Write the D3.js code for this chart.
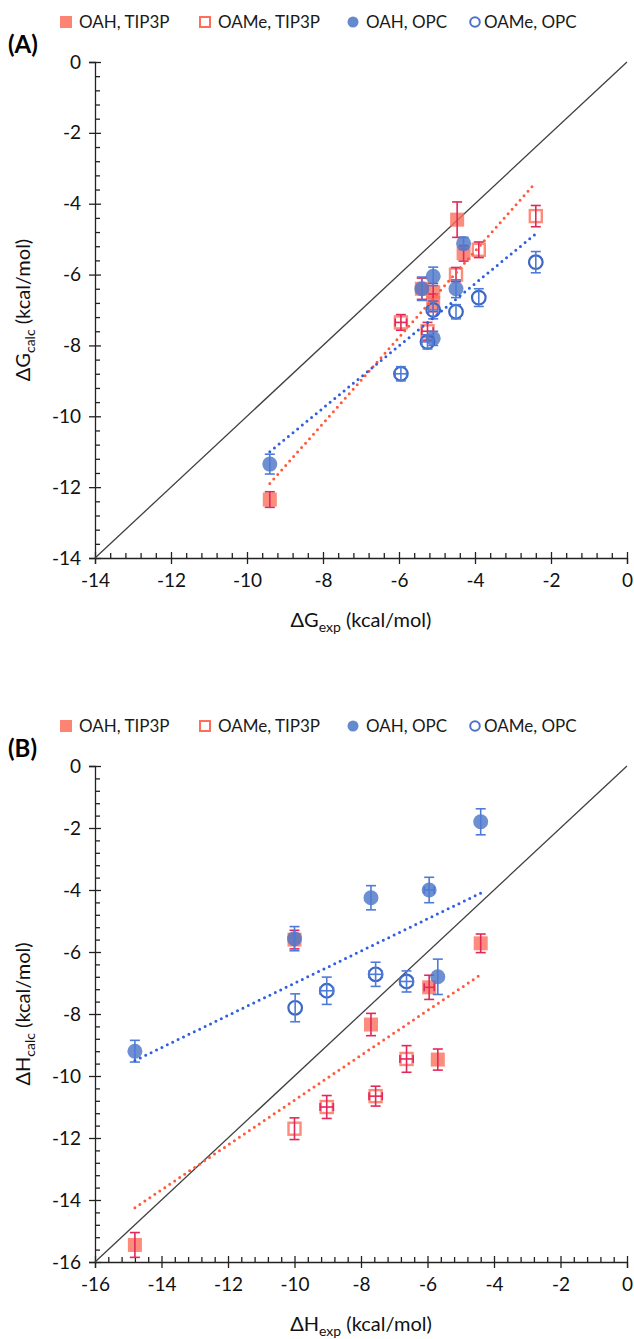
<!DOCTYPE html>
<html>
<head>
<meta charset="utf-8">
<script src="https://cdn.jsdelivr.net/npm/d3@7"></script>
<style>
  body { margin: 0; background: #fff; }
  text { font-family: Lato, "Open Sans", sans-serif; }
</style>
</head>
<body>
<svg width="634" height="1339"></svg>
<script>
const seriesNames = ["OAH, TIP3P", "OAMe, TIP3P", "OAH, OPC", "OAMe, OPC"];

// rows: [exp, calc, calc error, exp error]
// panel A, dG
const aOahTip3p = [[-9.4, -12.35, 0.22, 0], [-5.4, -6.4, 0.3, 0], [-5.1, -6.5, 0.25, 0],
                   [-5.1, -6.8, 0.25, 0], [-4.47, -4.45, 0.5, 0], [-4.3, -5.4, 0.22, 0]];
const aOameTip3p = [[-5.95, -7.35, 0.22, 0.15], [-5.25, -7.6, 0.25, 0.15], [-4.5, -6.0, 0.2, 0],
                    [-3.9, -5.3, 0.22, 0], [-2.4, -4.35, 0.3, 0]];
const aOahOpc = [[-9.4, -11.35, 0.28, 0], [-5.4, -6.4, 0.33, 0], [-5.1, -6.05, 0.26, 0],
                 [-5.1, -7.8, 0.2, 0], [-4.5, -6.4, 0.25, 0], [-4.3, -5.12, 0.17, 0]];
const aOameOpc = [[-5.95, -8.8, 0.2, 0.15], [-5.25, -7.9, 0.2, 0.15], [-5.1, -7.0, 0.25, 0.12],
                  [-4.5, -7.05, 0.2, 0], [-3.9, -6.65, 0.25, 0], [-2.4, -5.65, 0.3, 0]];
const aTrendTip3p = [[-9.4, -11.9], [-2.4, -3.4]];
const aTrendOpc = [[-9.4, -11.0], [-2.4, -4.85]];

// panel B, dH
const bOahTip3p = [[-14.8, -15.45, 0.4, 0], [-10.0, -5.6, 0.3, 0], [-7.7, -8.34, 0.36, 0],
                   [-5.95, -7.14, 0.39, 0.15], [-5.69, -9.47, 0.34, 0], [-4.4, -5.72, 0.3, 0]];
const bOameTip3p = [[-10.0, -11.7, 0.35, 0], [-9.03, -11.0, 0.37, 0.2], [-7.56, -10.65, 0.32, 0.2],
                    [-6.63, -9.45, 0.43, 0.2]];
const bOahOpc = [[-14.8, -9.2, 0.35, 0], [-10.0, -5.57, 0.39, 0], [-7.7, -4.25, 0.39, 0],
                 [-5.95, -4.0, 0.41, 0.15], [-5.69, -6.8, 0.57, 0], [-4.4, -1.8, 0.42, 0]];
const bOameOpc = [[-9.98, -7.8, 0.45, 0], [-9.03, -7.25, 0.44, 0.2], [-7.56, -6.72, 0.39, 0.2],
                  [-6.63, -6.95, 0.34, 0.2]];
const bTrendTip3p = [[-14.8, -14.25], [-4.4, -6.73]];
const bTrendOpc = [[-14.8, -9.5], [-4.4, -4.1]];

const ticksA = [-14, -12, -10, -8, -6, -4, -2, 0];
const ticksB = [-16, -14, -12, -10, -8, -6, -4, -2, 0];

const RED = "#fb6f5b", RED_BAR = "#e2285a", RED_TREND = "#ff5a3c";
const BLUE = "#4a74c6", BLUE_BAR = "#4f7bd8", BLUE_TREND = "#2f5fe0";

var svg = d3.select("svg");
svg.append("rect").attr("width", 634).attr("height", 1339).attr("fill", "#fff");

function minorTicks(ticks) {
    var lo = d3.min(ticks), hi = d3.max(ticks), out = [];
    for (var i = 0; lo + i * 0.4 <= hi + 1e-9; i++) {
        if (i % 5 !== 0) out.push(+(lo + i * 0.4).toFixed(2));
    }
    return out;
}

function drawPanel(top, p) {
    var g = svg.append("g").attr("transform", "translate(0," + top + ")");
    var left = 95, right = 627, y0 = 62, y1 = 558;
    var x = d3.scaleLinear().domain(d3.extent(p.ticks)).range([left, right]);
    var y = d3.scaleLinear().domain(d3.extent(p.ticks)).range([y1, y0]);

    // legend
    var leg = g.append("g").attr("transform", "translate(0,22)");
    var legX = [66, 205, 353, 475];
    seriesNames.forEach(function (name, i) {
        var cx = legX[i];
        if (i === 0) leg.append("rect").attr("x", cx - 6).attr("y", -6).attr("width", 12).attr("height", 12)
            .attr("fill", RED).attr("fill-opacity", 0.85);
        if (i === 1) leg.append("rect").attr("x", cx - 5).attr("y", -5).attr("width", 10).attr("height", 10)
            .attr("fill", "#fff").attr("stroke", RED).attr("stroke-width", 2);
        if (i === 2) leg.append("circle").attr("cx", cx).attr("cy", 0).attr("r", 5.5)
            .attr("fill", BLUE).attr("fill-opacity", 0.85);
        if (i === 3) leg.append("circle").attr("cx", cx).attr("cy", 0).attr("r", 4.8)
            .attr("fill", "#fff").attr("stroke", BLUE).attr("stroke-width", 2);
        leg.append("text").attr("x", cx + (i === 3 ? 9 : 13)).attr("y", 6)
            .attr("font-size", 17).attr("fill", "#1a1a1a").text(name);
    });

    g.append("text").attr("x", 8).attr("y", 53).attr("font-size", 24).attr("font-weight", "bold")
        .attr("fill", "#000").text(p.label);

    // axes
    var xAxis = g.append("g").attr("transform", "translate(0," + y1 + ")")
        .call(d3.axisBottom(x).tickValues(p.ticks).tickSize(6).tickPadding(10).tickFormat(d => String(d)));
    xAxis.selectAll(".tick line").attr("y1", -6);
    g.append("g").attr("transform", "translate(0," + y1 + ")")
        .call(d3.axisBottom(x).tickValues(minorTicks(p.ticks)).tickSize(-5).tickFormat(""))
        .select(".domain").remove();

    var yAxis = g.append("g").attr("transform", "translate(" + left + ",0)")
        .call(d3.axisLeft(y).tickValues(p.ticks).tickSize(6).tickPadding(8).tickFormat(d => String(d)));
    yAxis.selectAll(".tick line").attr("x1", 6);
    g.append("g").attr("transform", "translate(" + left + ",0)")
        .call(d3.axisLeft(y).tickValues(minorTicks(p.ticks)).tickSize(-5).tickFormat(""))
        .select(".domain").remove();

    g.selectAll(".domain, .tick line").attr("stroke", "#222").attr("stroke-width", 1.3);
    g.selectAll(".tick text").attr("font-size", 19).attr("fill", "#111")
        .style("font-family", "Lato, 'Open Sans', sans-serif");

    // axis titles
    var xt = g.append("text").attr("x", 361).attr("y", 627).attr("text-anchor", "middle")
        .attr("font-size", 20).attr("fill", "#111");
    xt.append("tspan").text("Δ" + p.sym);
    xt.append("tspan").attr("font-size", 14).attr("dy", 5).text("exp");
    xt.append("tspan").attr("dy", -5).text(" (kcal/mol)");

    var yt = g.append("text").attr("transform", "translate(30," + ((y0 + y1) / 2) + ") rotate(-90)")
        .attr("text-anchor", "middle").attr("font-size", 20).attr("fill", "#111");
    yt.append("tspan").text("Δ" + p.sym);
    yt.append("tspan").attr("font-size", 14).attr("dy", 5).text("calc");
    yt.append("tspan").attr("dy", -5).text(" (kcal/mol)");

    // identity line
    var lo = d3.min(p.ticks);
    g.append("line").attr("x1", x(lo)).attr("y1", y(lo)).attr("x2", x(0)).attr("y2", y(0))
        .attr("stroke", "#404040").attr("stroke-width", 1.3);

    function bars(sel, data, color) {
        var eb = sel.append("g").attr("stroke", color).attr("stroke-width", 1.6).attr("fill", "none");
        data.forEach(function (d) {
            var cx = x(d[0]), cy = y(d[1]);
            var ya = y(d[1] + d[2]), yb = y(d[1] - d[2]);
            eb.append("line").attr("x1", cx).attr("x2", cx).attr("y1", ya).attr("y2", yb);
            eb.append("line").attr("x1", cx - 5).attr("x2", cx + 5).attr("y1", ya).attr("y2", ya);
            eb.append("line").attr("x1", cx - 5).attr("x2", cx + 5).attr("y1", yb).attr("y2", yb);
            if (d[3] > 0) {
                var xa = x(d[0] - d[3]), xb = x(d[0] + d[3]);
                eb.append("line").attr("x1", xa).attr("x2", xb).attr("y1", cy).attr("y2", cy);
                eb.append("line").attr("x1", xa).attr("x2", xa).attr("y1", cy - 4).attr("y2", cy + 4);
                eb.append("line").attr("x1", xb).attr("x2", xb).attr("y1", cy - 4).attr("y2", cy + 4);
            }
        });
    }

    var marks = g.append("g");
    // OAH, TIP3P
    marks.append("g").selectAll("rect").data(p.s[0]).enter().append("rect")
        .attr("x", d => x(d[0]) - 7).attr("y", d => y(d[1]) - 7).attr("width", 14).attr("height", 14)
        .attr("fill", RED).attr("fill-opacity", 0.8);
    bars(marks, p.s[0], RED_BAR);
    // OAMe, TIP3P
    marks.append("g").selectAll("rect").data(p.s[1]).enter().append("rect")
        .attr("x", d => x(d[0]) - 6).attr("y", d => y(d[1]) - 6).attr("width", 12).attr("height", 12)
        .attr("fill", "none").attr("stroke", RED).attr("stroke-opacity", 0.8).attr("stroke-width", 2.4);
    bars(marks, p.s[1], RED_BAR);
    // OAH, OPC
    marks.append("g").selectAll("circle").data(p.s[2]).enter().append("circle")
        .attr("cx", d => x(d[0])).attr("cy", d => y(d[1])).attr("r", 7.5)
        .attr("fill", BLUE).attr("fill-opacity", 0.8);
    bars(marks, p.s[2], BLUE_BAR);
    // OAMe, OPC
    marks.append("g").selectAll("circle").data(p.s[3]).enter().append("circle")
        .attr("cx", d => x(d[0])).attr("cy", d => y(d[1])).attr("r", 6.8)
        .attr("fill", "none").attr("stroke", "#3d68c2").attr("stroke-width", 2.2);
    bars(marks, p.s[3], BLUE_BAR);

    // dotted trendlines
    var line = d3.line().x(d => x(d[0])).y(d => y(d[1]));
    [[p.trends[0], RED_TREND], [p.trends[1], BLUE_TREND]].forEach(function (t) {
        g.append("path").attr("d", line(t[0])).attr("fill", "none").attr("stroke", t[1])
            .attr("stroke-width", 3).attr("stroke-linecap", "round").attr("stroke-dasharray", "0,6");
    });
}

drawPanel(0, {
    label: "(A)", sym: "G", ticks: ticksA,
    s: [aOahTip3p, aOameTip3p, aOahOpc, aOameOpc],
    trends: [aTrendTip3p, aTrendOpc]
});
drawPanel(704, {
    label: "(B)", sym: "H", ticks: ticksB,
    s: [bOahTip3p, bOameTip3p, bOahOpc, bOameOpc],
    trends: [bTrendTip3p, bTrendOpc]
});
</script>
</body>
</html>
